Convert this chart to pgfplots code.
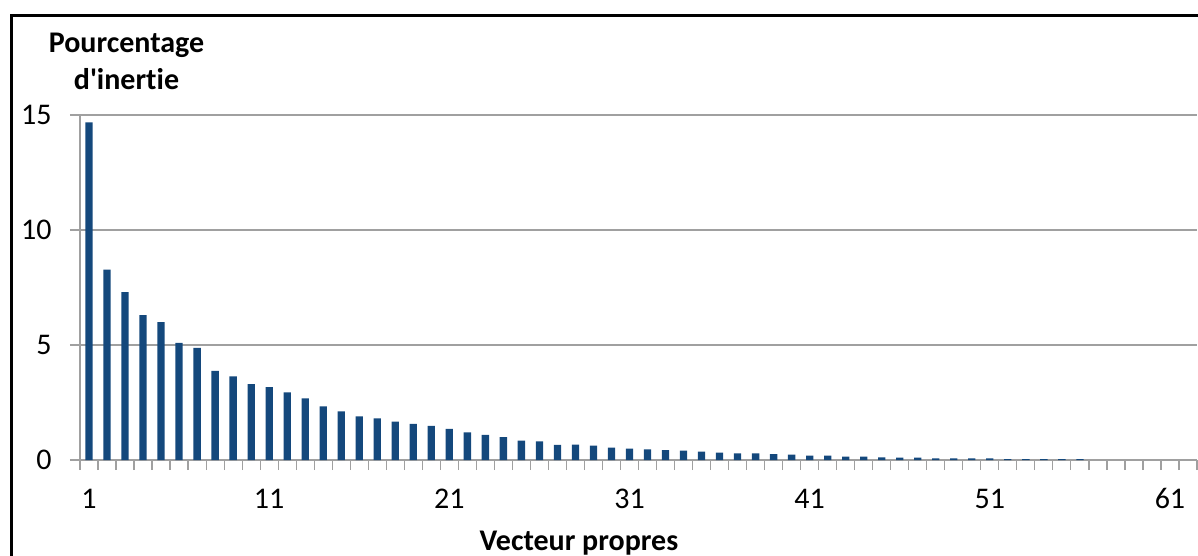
\documentclass[border=0pt]{standalone}
\usepackage{pgfplots}
\pgfplotsset{compat=1.18}
\usepackage{fontspec}
\setmainfont{Carlito}[Ligatures={TeX,NoCommon}]
\definecolor{barblue}{RGB}{20,72,124}
\definecolor{gridgray}{RGB}{160,160,160}

\begin{document}
\begin{tikzpicture}
\useasboundingbox (0,0) rectangle (599pt,-278pt);
% cropped outer frame (top and left only)
\draw[line width=1.5pt] (5.75pt,-280pt) -- (5.75pt,-7.75pt) -- (602pt,-7.75pt);
\begin{axis}[
    at={(40pt,-230pt)}, anchor=south west,
    scale only axis, width=558.5pt, height=172.5pt,
    xmin=0.5, xmax=62.5, ymin=0, ymax=15,
    axis lines*=left,
    axis line style={gridgray, line width=0.8pt},
    ymajorgrids,
    grid style={gridgray, line width=0.6pt},
    ytick={0,5,10,15},
    xtick={1,11,...,61},
    minor xtick={0.5,1.5,...,62.5},
    tick align=outside,
    major tick length=5pt,
    minor tick length=5pt,
    tick style={gridgray, line width=0.6pt},
    major x tick style={draw=none},
    /pgf/number format/assume math mode=true,
    ticklabel style={font=\fontsize{15}{18}\selectfont, inner sep=0pt},
    yticklabel style={anchor=east, xshift=-9pt},
    xticklabel style={anchor=base, yshift=-19pt},
    clip=false,
  ]
  \addplot[ybar, bar width=3.65pt, fill=barblue, draw=none] coordinates {
    (1,14.68)(2,8.28)(3,7.30)(4,6.30)(5,5.99)(6,5.09)(7,4.87)(8,3.87)
    (9,3.64)(10,3.30)(11,3.17)(12,2.94)(13,2.68)(14,2.33)(15,2.11)(16,1.90)
    (17,1.81)(18,1.67)(19,1.57)(20,1.48)(21,1.35)(22,1.20)(23,1.09)(24,0.99)
    (25,0.84)(26,0.81)(27,0.66)(28,0.67)(29,0.62)(30,0.54)(31,0.49)(32,0.46)
    (33,0.43)(34,0.41)(35,0.36)(36,0.32)(37,0.29)(38,0.29)(39,0.26)(40,0.23)
    (41,0.19)(42,0.19)(43,0.15)(44,0.15)(45,0.11)(46,0.10)(47,0.10)(48,0.07)
    (49,0.07)(50,0.07)(51,0.07)(52,0.04)(53,0.04)(54,0.04)(55,0.04)(56,0.04)
  };
\end{axis}
% axis titles
\node[anchor=base, font=\fontsize{15}{18}\selectfont\bfseries] at (63.25pt,-26.5pt) {Pourcentage};
\node[anchor=base, font=\fontsize{15}{18}\selectfont\bfseries] at (63.25pt,-45pt) {d\textquotesingle inertie};
\node[anchor=base, font=\fontsize{15}{18}\selectfont\bfseries] at (289.5pt,-275pt) {Vecteur propres};
\end{tikzpicture}
\end{document}
